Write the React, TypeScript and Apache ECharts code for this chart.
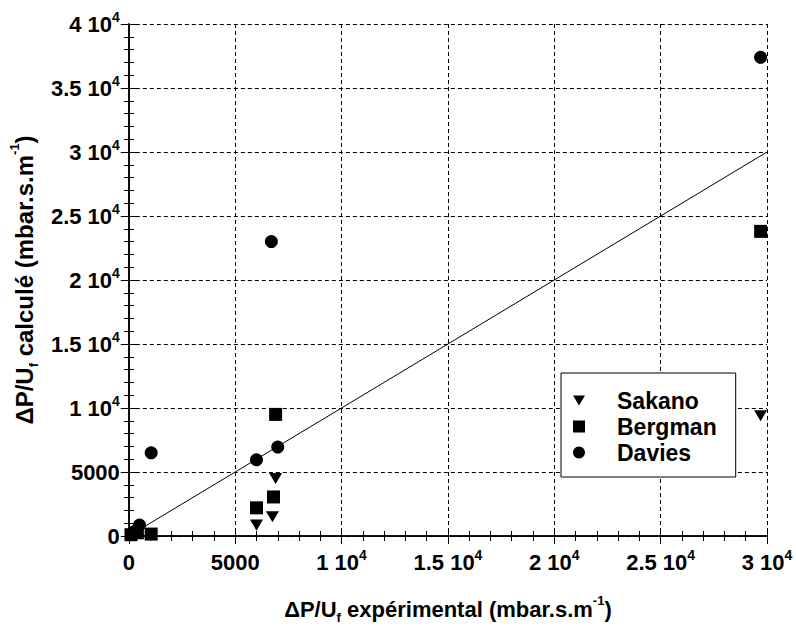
import React, { useEffect, useRef } from 'react';
import * as echarts from 'echarts';

const xTickLabels = ['0', '5000', '1 10^4', '1.5 10^4', '2 10^4', '2.5 10^4', '3 10^4'];
const yTickLabels = ['0', '5000', '1 10^4', '1.5 10^4', '2 10^4', '2.5 10^4', '3 10^4', '3.5 10^4', '4 10^4'];

const sakanoX = [6000, 6750, 6900, 29700];
const sakanoY = [850, 1500, 4500, 9400];
const bergmanX = [100, 400, 1050, 6000, 6800, 6900, 29700];
const bergmanY = [100, 250, 150, 2200, 3050, 9500, 23800];
const daviesX = [250, 500, 1050, 6000, 7000, 6700, 29700];
const daviesY = [350, 850, 6500, 5950, 6950, 23000, 37400];
const identityLine = [[0, 0], [30000, 30000]];

const FONT = '"Liberation Sans", Arial, Helvetica, sans-serif';

function toRich(label: string): string {
  const i = label.indexOf('^');
  if (i < 0) return `{n|${label}}`;
  return `{n|${label.slice(0, i)}}{sup|${label.slice(i + 1)}}`;
}

function zip(xs: number[], ys: number[]) {
  return xs.map((x, i) => [x, ys[i]]);
}

const labelRich = {
  n: { fontSize: 22, fontWeight: 'bold', fontFamily: FONT, color: '#000', lineHeight: 28 },
  sup: { fontSize: 14, fontWeight: 'bold', fontFamily: FONT, color: '#000', lineHeight: 14, verticalAlign: 'top' },
};

function nameRich(size: number) {
  return {
    n: { fontSize: size, fontWeight: 'bold', fontFamily: FONT, color: '#000', lineHeight: size + 8 },
    sup: { fontSize: 13, fontWeight: 'bold', fontFamily: FONT, color: '#000', lineHeight: 13, verticalAlign: 'top' },
    sub: { fontSize: 13, fontWeight: 'bold', fontFamily: FONT, color: '#000', lineHeight: 13, verticalAlign: 'bottom' },
  };
}

const downTriangle = 'path://M0,0L20,0L10,17Z';
const markerStyle = { color: '#000', opacity: 1 };

export default function App() {
  const ref = useRef<HTMLDivElement>(null);
  useEffect(() => {
    if (!ref.current) return;
    const chart = echarts.init(ref.current, undefined, { renderer: 'svg' });
    const frameAxis = {
      axisLine: { show: true, lineStyle: { color: '#000', width: 1.5 } },
      axisTick: { show: true, inside: true, length: 8, lineStyle: { color: '#000', width: 1 } },
      minorTick: { show: true, splitNumber: 5, length: 5, lineStyle: { color: '#000', width: 1 } },
    };
    chart.setOption({
      animation: false,
      backgroundColor: '#fff',
      grid: { left: 125, right: 29, top: 24, bottom: 96, containLabel: false },
      xAxis: [
        {
          type: 'value',
          min: 0,
          max: 30000,
          interval: 5000,
          position: 'bottom',
          ...frameAxis,
          splitLine: { show: true, lineStyle: { color: '#000', width: 1, type: [4, 3] } },
          axisLabel: {
            margin: 12,
            formatter: (v: number) => toRich(xTickLabels[Math.round(v / 5000)] ?? String(v)),
            rich: labelRich,
          },
          name: '{n|ΔP/U}{sub|f}{n| expérimental (mbar.s.m}{sup|-1}{n|)}',
          nameLocation: 'middle',
          nameGap: 58,
          nameTextStyle: { rich: nameRich(22) },
        },
        {
          type: 'value',
          min: 0,
          max: 30000,
          interval: 5000,
          position: 'top',
          ...frameAxis,
          splitLine: { show: false },
          axisLabel: { show: false },
        },
      ],
      yAxis: [
        {
          type: 'value',
          min: 0,
          max: 40000,
          interval: 5000,
          position: 'left',
          ...frameAxis,
          splitLine: { show: true, lineStyle: { color: '#000', width: 1, type: [4, 3] } },
          axisLabel: {
            margin: 9,
            formatter: (v: number) => toRich(yTickLabels[Math.round(v / 5000)] ?? String(v)),
            rich: labelRich,
          },
          name: '{n|ΔP/U}{sub|f}{n| calculé (mbar.s.m}{sup|-1}{n|)}',
          nameLocation: 'middle',
          nameGap: 73,
          nameRotate: 90,
          nameTextStyle: { rich: nameRich(24) },
        },
        {
          type: 'value',
          min: 0,
          max: 40000,
          interval: 5000,
          position: 'right',
          ...frameAxis,
          splitLine: { show: false },
          axisLabel: { show: false },
        },
      ],
      legend: {
        data: ['Sakano', 'Bergman', 'Davies'],
        orient: 'vertical',
        left: 561,
        top: 373,
        padding: [16, 19, 13, 12],
        itemGap: 3,
        itemWidth: 12,
        itemHeight: 12,
        backgroundColor: '#fff',
        borderColor: '#000',
        borderWidth: 1,
        borderRadius: 0,
        textStyle: {
          fontSize: 23,
          fontWeight: 'bold',
          fontFamily: FONT,
          color: '#000',
          lineHeight: 22,
          padding: [0, 0, 0, 27],
        },
      },
      series: [
        {
          type: 'line',
          data: identityLine,
          showSymbol: false,
          symbol: 'none',
          lineStyle: { color: '#000', width: 1 },
          silent: true,
          z: 1,
        },
        {
          name: 'Sakano',
          type: 'scatter',
          data: zip(sakanoX, sakanoY),
          symbol: downTriangle,
          symbolKeepAspect: true,
          symbolSize: 13,
          itemStyle: markerStyle,
          z: 3,
        },
        {
          name: 'Bergman',
          type: 'scatter',
          data: zip(bergmanX, bergmanY),
          symbol: 'rect',
          symbolSize: 13,
          itemStyle: markerStyle,
          z: 3,
        },
        {
          name: 'Davies',
          type: 'scatter',
          data: zip(daviesX, daviesY),
          symbol: 'circle',
          symbolSize: 13,
          itemStyle: markerStyle,
          z: 3,
        },
      ],
    });
    return () => chart.dispose();
  }, []);
  return <div ref={ref} style={{ position: 'fixed', left: 0, top: 0, width: 796, height: 632 }} />;
}
